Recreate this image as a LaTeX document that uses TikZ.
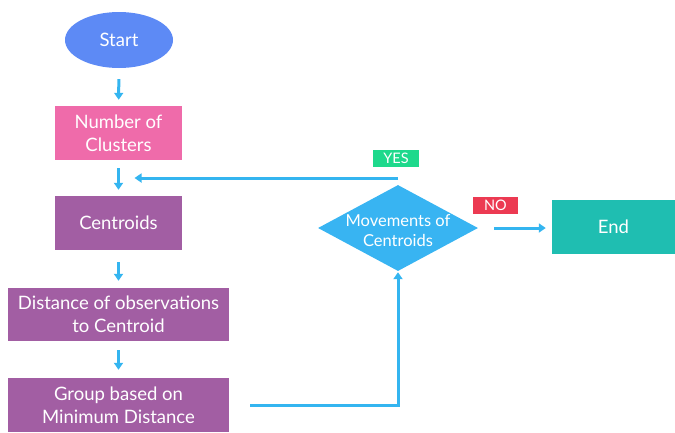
\documentclass[tikz,border=0pt]{standalone}
\usepackage{fontspec}
\setmainfont{Lato}
\usepackage{tikz}
\usetikzlibrary{shapes.geometric,arrows.meta}
\definecolor{startblue}{HTML}{5D8AF5}
\definecolor{pinkbox}{HTML}{EF6BAA}
\definecolor{purplebox}{HTML}{A25EA3}
\definecolor{flowblue}{HTML}{34B5F0}
\definecolor{diablue}{HTML}{38B4F2}
\definecolor{endteal}{HTML}{1FBEB1}
\definecolor{yesgreen}{HTML}{1ED98C}
\definecolor{nored}{HTML}{EC3A52}

\begin{document}
\begin{tikzpicture}[x=1pt,y=-1pt,
    box/.style={rectangle, inner sep=0pt, text=white, align=center,
      font=\fontsize{18.5}{23}\selectfont},
    flow/.style={draw=flowblue, line width=3pt, -{Triangle[length=7pt,width=9pt]}},
    tag/.style={rectangle, inner sep=0pt, minimum width=46pt, minimum height=17pt,
      text=white, font=\fontsize{14.5}{14.5}\selectfont}]
  \useasboundingbox (0,0) rectangle (675,432);
  % left column
  \node[ellipse, fill=startblue, minimum width=108pt, minimum height=56pt, inner sep=0pt,
    text=white, font=\fontsize{18.5}{23}\selectfont] (start) at (119,40) {Start};
  \node[box, fill=pinkbox, minimum width=127pt, minimum height=54pt] (num) at (118.5,133) {Number of\\Clusters};
  \node[box, fill=purplebox, minimum width=127pt, minimum height=54pt] (cen) at (118.5,223) {Centroids};
  \node[box, fill=purplebox, minimum width=221pt, minimum height=53pt] (dist) at (118.5,314.5) {Distance of observations\\to Centroid};
  \node[box, fill=purplebox, minimum width=221pt, minimum height=54pt] (grp) at (118.5,405) {Group based on\\Minimum Distance};
  % right side
  \node[diamond, fill=diablue, minimum width=160pt, minimum height=86pt, inner sep=0pt] (dia) at (398,228) {};
  \node[box, font=\fontsize{16.5}{20}\selectfont] (diatext) at (398,231) {Movements of\\Centroids};
  \node[box, fill=endteal, minimum width=123pt, minimum height=54pt] (end) at (613.5,227) {End};
  \node[tag, fill=yesgreen] (yes) at (396,158.5) {YES};
  \node[tag, fill=nored, minimum width=45pt] (no) at (495.5,205.5) {NO};
  \coordinate (loop) at (398,178);

  \draw[flow, shorten <=11pt, shorten >=6pt] (start) -- (num);
  \draw[flow, shorten <=8pt, shorten >=6pt] (num) -- (cen);
  \draw[flow, shorten <=12pt, shorten >=7pt] (cen) -- (dist);
  \draw[flow, shorten <=9pt, shorten >=8pt] (dist) -- (grp);
  \draw[flow, shorten <=21pt, shorten >=1pt] (grp.east) -| (dia.south);
  \draw[flow, shorten >=16pt] (loop) -- (loop -| num);
  \draw[flow, shorten <=16pt, shorten >=6pt] (dia.east) -- (dia.east -| end.west);
\end{tikzpicture}
\end{document}
